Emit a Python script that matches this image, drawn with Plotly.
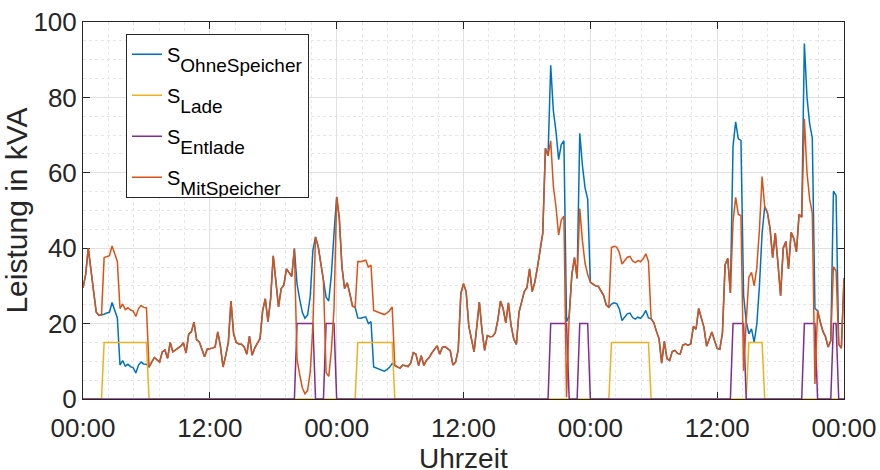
import pandas as pd
import plotly.graph_objects as go

# ---------------- data (15-min resolution, 3 days) ----------------
start = pd.Timestamp("2024-01-01 00:00")
zeit = pd.date_range(start, periods=289, freq="15min")

s_ohne = [
    29.5, 33, 40, 34, 28, 23, 22.2, 22.3,
    22.5, 22.8, 23, 25.6, 23.5, 21.5, 9, 10.2,
    8.7, 9.2, 8.6, 8.3, 6.9, 9, 9.8, 9.3,
    9.2, 8.5, 9.8, 11, 10.4, 9.8, 12.5, 13,
    10.8, 15, 12.5, 13, 13.4, 14, 14.9, 12.2,
    17.2, 17.8, 20.4, 15.7, 15.2, 12.9, 11.2, 13.2,
    13.3, 13.5, 13.8, 17.8, 14, 8.5, 11.5, 15,
    26, 17.3, 15, 14.6, 14.5, 13.8, 11.9, 16.7,
    11.6, 13.5, 14.8, 16, 23.5, 26.6, 20.5, 26.5,
    38, 30.8, 24.4, 29.3, 30.2, 34.5, 33.5, 32.5,
    39.9, 30.5, 26.5, 23, 21.4, 22.3, 27.2, 39.4,
    43, 40.5, 36, 31.5, 27, 26, 33, 44,
    53.6, 48, 35, 29.3, 30.8, 28, 24.6, 24.3,
    21.5, 21.4, 21.6, 21.8, 20, 20.5, 8.5, 8.2,
    8.0, 7.8, 7.4, 7.8, 8.4, 9.4, 8.9, 8.5,
    8.2, 9.0, 8.8, 8.6, 9.5, 12.3, 11.9, 8.9,
    11.5, 8.9, 10.3, 11, 12.2, 13.3, 14.1, 11.9,
    13.7, 13.9, 13.4, 12.8, 9, 9.8, 13, 28,
    30.6, 28.5, 19.4, 16.3, 12.5, 19, 25.7, 18.2,
    12.9, 16.8, 16.5, 16.6, 17.5, 21, 26, 24,
    20.2, 25.5, 19.5, 16, 14.5, 23, 26, 28.5,
    29.5, 34.5, 28.5, 31, 35, 39.4, 44, 66.5,
    64.5, 88.5, 76.5, 71, 63.5, 67.5, 68.5, 20.5,
    22, 33, 37.5, 32, 70.5, 62, 56, 53,
    31, 30.5, 30, 29.9, 28.5, 27.5, 25, 24.3,
    25.2, 25.5, 25.3, 23.8, 20.8, 21.8, 22.6, 22.8,
    21.6, 21.2, 21.7, 21.4, 22.2, 23.5, 21.5, 21.3,
    20.3, 18, 16, 9.5, 15.3, 10.7, 10.2, 12.6,
    12.9, 12.1, 11.9, 14.3, 14.6, 14.3, 14.6, 19.3,
    18.5, 24, 21.8, 19, 14, 16, 17.8, 15.5,
    13.4, 13.2, 17.5, 35.6, 37.3, 28.1, 67, 73.5,
    69, 68.6, 27.5, 20.5, 17.3, 18.6, 15, 19.8,
    30, 44, 51, 49.5, 45.3, 37.5, 44, 36,
    27.4, 40, 41.8, 34.5, 44.2, 42.6, 39, 49,
    48.2, 94.3, 80, 73, 69.3, 24, 23.4, 20.5,
    18, 16.5, 13.8, 15.5, 55.1, 54, 14.5, 13.5,
    32,
]

s_lade = [
    0, 0, 0, 0, 0, 0, 0, 0,
    15, 15, 15, 15, 15, 15, 15, 15,
    15, 15, 15, 15, 15, 15, 15, 15,
    15, 0, 0, 0, 0, 0, 0, 0,
    0, 0, 0, 0, 0, 0, 0, 0,
    0, 0, 0, 0, 0, 0, 0, 0,
    0, 0, 0, 0, 0, 0, 0, 0,
    0, 0, 0, 0, 0, 0, 0, 0,
    0, 0, 0, 0, 0, 0, 0, 0,
    0, 0, 0, 0, 0, 0, 0, 0,
    0, 0, 0, 0, 0, 0, 0, 0,
    0, 0, 0, 0, 0, 0, 0, 0,
    0, 0, 0, 0, 0, 0, 0, 0,
    15, 15, 15, 15, 15, 15, 15, 15,
    15, 15, 15, 15, 15, 15, 0, 0,
    0, 0, 0, 0, 0, 0, 0, 0,
    0, 0, 0, 0, 0, 0, 0, 0,
    0, 0, 0, 0, 0, 0, 0, 0,
    0, 0, 0, 0, 0, 0, 0, 0,
    0, 0, 0, 0, 0, 0, 0, 0,
    0, 0, 0, 0, 0, 0, 0, 0,
    0, 0, 0, 0, 0, 0, 0, 0,
    0, 0, 0, 0, 0, 0, 0, 0,
    0, 0, 0, 0, 0, 0, 0, 0,
    0, 0, 0, 0, 0, 0, 0, 0,
    15, 15, 15, 15, 15, 15, 15, 15,
    15, 15, 15, 15, 15, 15, 15, 0,
    0, 0, 0, 0, 0, 0, 0, 0,
    0, 0, 0, 0, 0, 0, 0, 0,
    0, 0, 0, 0, 0, 0, 0, 0,
    0, 0, 0, 0, 0, 0, 0, 0,
    0, 0, 0, 0, 15, 15, 15, 15,
    15, 15, 0, 0, 0, 0, 0, 0,
    0, 0, 0, 0, 0, 0, 0, 0,
    0, 0, 0, 0, 0, 0, 0, 0,
    0, 0, 0, 0, 0, 0, 0, 0,
    0,
]

s_entlade = [
    0, 0, 0, 0, 0, 0, 0, 0,
    0, 0, 0, 0, 0, 0, 0, 0,
    0, 0, 0, 0, 0, 0, 0, 0,
    0, 0, 0, 0, 0, 0, 0, 0,
    0, 0, 0, 0, 0, 0, 0, 0,
    0, 0, 0, 0, 0, 0, 0, 0,
    0, 0, 0, 0, 0, 0, 0, 0,
    0, 0, 0, 0, 0, 0, 0, 0,
    0, 0, 0, 0, 0, 0, 0, 0,
    0, 0, 0, 0, 0, 0, 0, 0,
    0, 20, 20, 20, 20, 20, 20, 20,
    0, 0, 0, 0, 20, 20, 20, 20,
    0, 0, 0, 0, 0, 0, 0, 0,
    0, 0, 0, 0, 0, 0, 0, 0,
    0, 0, 0, 0, 0, 0, 0, 0,
    0, 0, 0, 0, 0, 0, 0, 0,
    0, 0, 0, 0, 0, 0, 0, 0,
    0, 0, 0, 0, 0, 0, 0, 0,
    0, 0, 0, 0, 0, 0, 0, 0,
    0, 0, 0, 0, 0, 0, 0, 0,
    0, 0, 0, 0, 0, 0, 0, 0,
    0, 0, 0, 0, 0, 0, 0, 0,
    0, 20, 20, 20, 20, 20, 20, 20,
    0, 0, 0, 0, 20, 20, 20, 20,
    0, 0, 0, 0, 0, 0, 0, 0,
    0, 0, 0, 0, 0, 0, 0, 0,
    0, 0, 0, 0, 0, 0, 0, 0,
    0, 0, 0, 0, 0, 0, 0, 0,
    0, 0, 0, 0, 0, 0, 0, 0,
    0, 0, 0, 0, 0, 0, 0, 0,
    0, 0, 0, 0, 0, 0, 20, 20,
    20, 20, 20, 0, 0, 0, 0, 0,
    0, 0, 0, 0, 0, 0, 0, 0,
    0, 0, 0, 0, 0, 0, 0, 0,
    0, 20, 20, 20, 20, 20, 0, 0,
    0, 0, 0, 0, 20, 20, 0, 0,
    0,
]

s_mit = [
    29.5, 33, 40, 34, 28, 23, 22.2, 22.3,
    37.5, 37.8, 38, 40.6, 38.5, 36.5, 24, 25.2,
    23.7, 24.2, 23.6, 23.3, 21.9, 24, 24.8, 24.3,
    24.2, 8.5, 9.8, 11, 10.4, 9.8, 12.5, 13,
    10.8, 15, 12.5, 13, 13.4, 14, 14.9, 12.2,
    17.2, 17.8, 20.4, 15.7, 15.2, 12.9, 11.2, 13.2,
    13.3, 13.5, 13.8, 17.8, 14, 8.5, 11.5, 15,
    26, 17.3, 15, 14.6, 14.5, 13.8, 11.9, 16.7,
    11.6, 13.5, 14.8, 16, 23.5, 26.6, 20.5, 26.5,
    38, 30.8, 24.4, 29.3, 30.2, 34.5, 33.5, 32.5,
    39.9, 10.5, 6.5, 3, 1.4, 2.3, 7.2, 19.4,
    43, 40.5, 36, 31.5, 7, 6, 13, 24,
    53.6, 48, 35, 29.3, 30.8, 28, 24.6, 24.3,
    36.5, 36.4, 36.6, 36.8, 35, 35.5, 23.5, 23.2,
    23.0, 22.8, 22.4, 22.8, 23.4, 24.4, 8.9, 8.5,
    8.2, 9.0, 8.8, 8.6, 9.5, 12.3, 11.9, 8.9,
    11.5, 8.9, 10.3, 11, 12.2, 13.3, 14.1, 11.9,
    13.7, 13.9, 13.4, 12.8, 9, 9.8, 13, 28,
    30.6, 28.5, 19.4, 16.3, 12.5, 19, 25.7, 18.2,
    12.9, 16.8, 16.5, 16.6, 17.5, 21, 26, 24,
    20.2, 25.5, 19.5, 16, 14.5, 23, 26, 28.5,
    29.5, 34.5, 28.5, 31, 35, 39.4, 44, 66.5,
    64.5, 68.5, 56.5, 51, 43.5, 47.5, 48.5, 0.5,
    22, 33, 37.5, 32, 50.5, 42, 36, 33,
    31, 30.5, 30, 29.9, 28.5, 27.5, 25, 24.3,
    40.2, 40.5, 40.3, 38.8, 35.8, 36.8, 37.6, 37.8,
    36.6, 36.2, 36.7, 36.4, 37.2, 38.5, 36.5, 21.3,
    20.3, 18, 16, 9.5, 15.3, 10.7, 10.2, 12.6,
    12.9, 12.1, 11.9, 14.3, 14.6, 14.3, 14.6, 19.3,
    18.5, 24, 21.8, 19, 14, 16, 17.8, 15.5,
    13.4, 13.2, 17.5, 35.6, 37.3, 28.1, 47, 53.5,
    49, 48.6, 7.5, 20.5, 32.3, 33.6, 30, 34.8,
    45, 59, 51, 49.5, 45.3, 37.5, 44, 36,
    27.4, 40, 41.8, 34.5, 44.2, 42.6, 39, 49,
    48.2, 74.3, 60, 53, 49.3, 4, 23.4, 20.5,
    18, 16.5, 13.8, 15.5, 35.1, 34, 14.5, 13.5,
    32,
]

tick_labels = ["00:00", "12:00", "00:00", "12:00", "00:00", "12:00", "00:00"]
tick_hours = [0, 12, 24, 36, 48, 60, 72]
y_ticks = [0, 20, 40, 60, 80, 100]

series_names = ["OhneSpeicher", "Lade", "Entlade", "MitSpeicher"]
series_colors = ["#0072BD", "#EDB120", "#7E2F8E", "#D95319"]

# ---------------- figure ----------------
fig = go.Figure()
for k, (name, vals, col) in enumerate(
        zip(series_names, [s_ohne, s_lade, s_entlade, s_mit], series_colors)):
    fig.add_trace(go.Scatter(
        x=zeit, y=vals, mode="lines",
        name=f"S<span style='font-size:19px;baseline-shift:-10px'>{name}</span>",
        legendgroup=f"g{k}",
        line=dict(color=col, width=1.5),
    ))

tickvals = [start + pd.Timedelta(hours=h) for h in tick_hours]
axis_col = "#262626"
grid_major = "#E1E1E1"
grid_minor = "#E6E6E6"

fig.update_xaxes(
    range=[tickvals[0], tickvals[-1]],
    tickmode="array", tickvals=tickvals, ticktext=tick_labels,
    ticks="inside", ticklen=7, tickwidth=1, tickcolor=axis_col,
    showline=True, linecolor=axis_col, linewidth=1, mirror="ticks",
    showgrid=True, gridcolor=grid_major, gridwidth=1,
    minor=dict(dtick=2.4 * 3600 * 1000, tick0=str(start), showgrid=True,
               gridcolor=grid_minor, griddash="dot", gridwidth=1),
    zeroline=False, layer="below traces",
    tickfont=dict(size=26, color=axis_col),
    ticklabelstandoff=6,
)
fig.update_yaxes(
    range=[0, 100],
    tickmode="array", tickvals=y_ticks,
    ticks="inside", ticklen=7, tickwidth=1, tickcolor=axis_col,
    showline=True, linecolor=axis_col, linewidth=1, mirror="ticks",
    showgrid=True, gridcolor=grid_major, gridwidth=1,
    minor=dict(dtick=5, tick0=0, showgrid=True,
               gridcolor=grid_minor, griddash="dot", gridwidth=1),
    zeroline=False, layer="below traces",
    tickfont=dict(size=26, color=axis_col),
    title=dict(text="Leistung in kVA", font=dict(size=30, color=axis_col), standoff=10),
)

# x-axis title as annotation (the margin would otherwise clamp its position)
fig.add_annotation(
    text="Uhrzeit", xref="paper", yref="paper", x=0.5, y=-0.157,
    xanchor="center", yanchor="middle", showarrow=False,
    font=dict(size=28, color=axis_col),
)

fig.update_layout(
    width=880, height=470,
    margin=dict(l=83, r=36, t=22, b=71, autoexpand=False),
    plot_bgcolor="white", paper_bgcolor="white",
    font=dict(family="Liberation Sans, Arial, sans-serif", size=26, color=axis_col),
    showlegend=True,
    legend=dict(
        x=0.0565, y=0.969, xanchor="left", yanchor="top",
        bgcolor="white", bordercolor=axis_col, borderwidth=1,
        font=dict(size=20, color="#000000"),
        tracegroupgap=12,
    ),
)

fig.write_html("out.html", config={"displayModeBar": False},
               post_script="document.body.style.margin='0px';")
